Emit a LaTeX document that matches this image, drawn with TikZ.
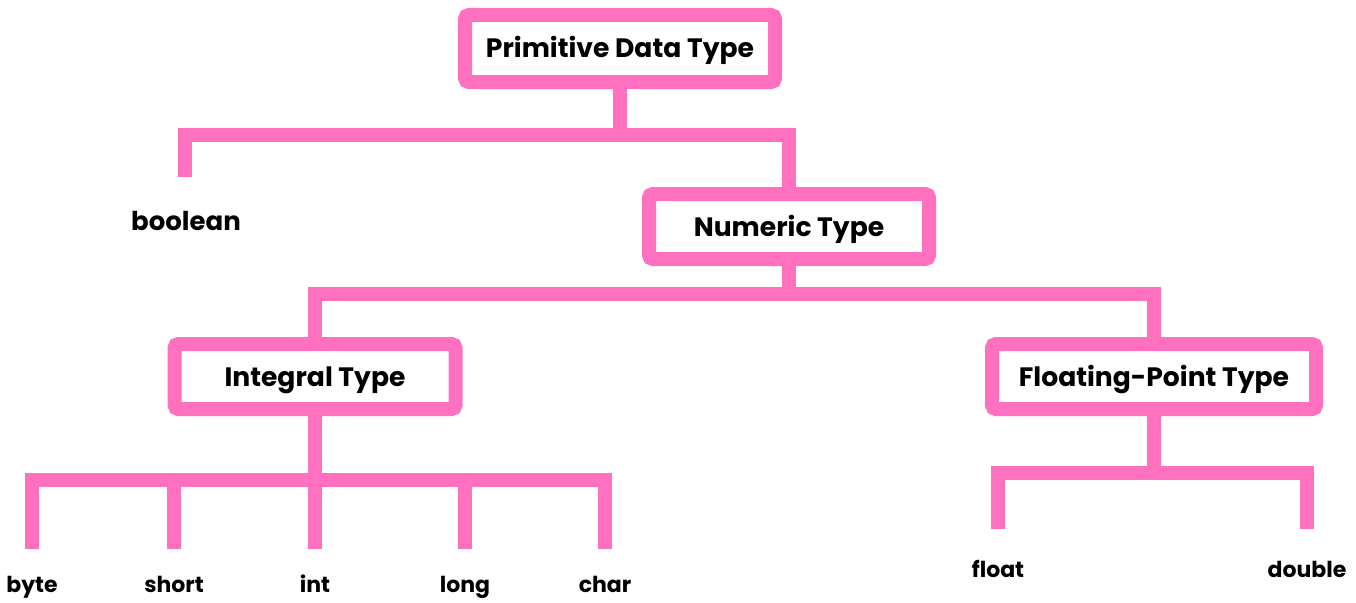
\documentclass[tikz,border=0pt]{standalone}
\usepackage{fontspec}
\setmainfont{Poppins}
\usetikzlibrary{positioning}
\definecolor{rosepink}{RGB}{255,113,191}

\tikzset{
  typebox/.style={draw=rosepink,line width=14pt,rounded corners=4pt,inner sep=0pt,
    minimum height=65pt,text height=19pt,text depth=0pt,font=\fontsize{26.6}{30}\selectfont\bfseries},
  leaf/.style={inner sep=0pt,anchor=base,font=\fontsize{22}{26}\selectfont\bfseries},
  branch/.style={draw=rosepink,line width=14pt}
}

\begin{document}
\begin{tikzpicture}[x=1pt,y=-1pt]
  \useasboundingbox (0,0) rectangle (1356,602);
  % boxes
  \node[typebox,minimum width=310pt,minimum height=67pt] (prim) at (620,48.5) {Primitive Data Type};
  \node[typebox,minimum width=280pt] (num) at (789,226.5) {Numeric Type};
  \node[typebox,minimum width=281pt] (integ) at (315,376.5) {Integral Type};
  \node[typebox,minimum width=324pt] (fpt) at (1154,376.5) {Floating-Point Type};
  % leaves
  \node[leaf,font=\fontsize{26}{30}\selectfont\bfseries] (boolean) at (186,230) {boolean};
  \coordinate (boolean-tip) at (185,177);
  \foreach \n/\x in {byte/32,short/174,int/315,long/465,char/605}{
    \node[leaf] (\n) at (\x,592) {\n};
    \coordinate (\n-tip) at (\x,549);
  }
  \foreach \n/\x in {float/998,double/1307}{
    \node[leaf] (\n) at (\x,577) {\n};
    \coordinate (\n-tip) at (\x,529);
  }
  % branches
  \coordinate (bus1) at (620,135);
  \coordinate (bus2) at (789,294);
  \coordinate (bus3) at (315,480);
  \coordinate (bus4) at (1154,473);
  \draw[branch] (prim) -- (bus1);
  \draw[branch] (boolean-tip) |- (bus1) -| (num);
  \draw[branch] (num) -- (bus2);
  \draw[branch] (integ) |- (bus2) -| (fpt);
  \draw[branch] (integ) -- (int-tip);
  \draw[branch] (byte-tip) |- (bus3) -| (char-tip);
  \foreach \n in {short,long}
    \draw[branch] (\n-tip) -- (\n-tip |- bus3);
  \draw[branch] (fpt) -- (bus4);
  \draw[branch] (float-tip) |- (bus4) -| (double-tip);
\end{tikzpicture}
\end{document}
